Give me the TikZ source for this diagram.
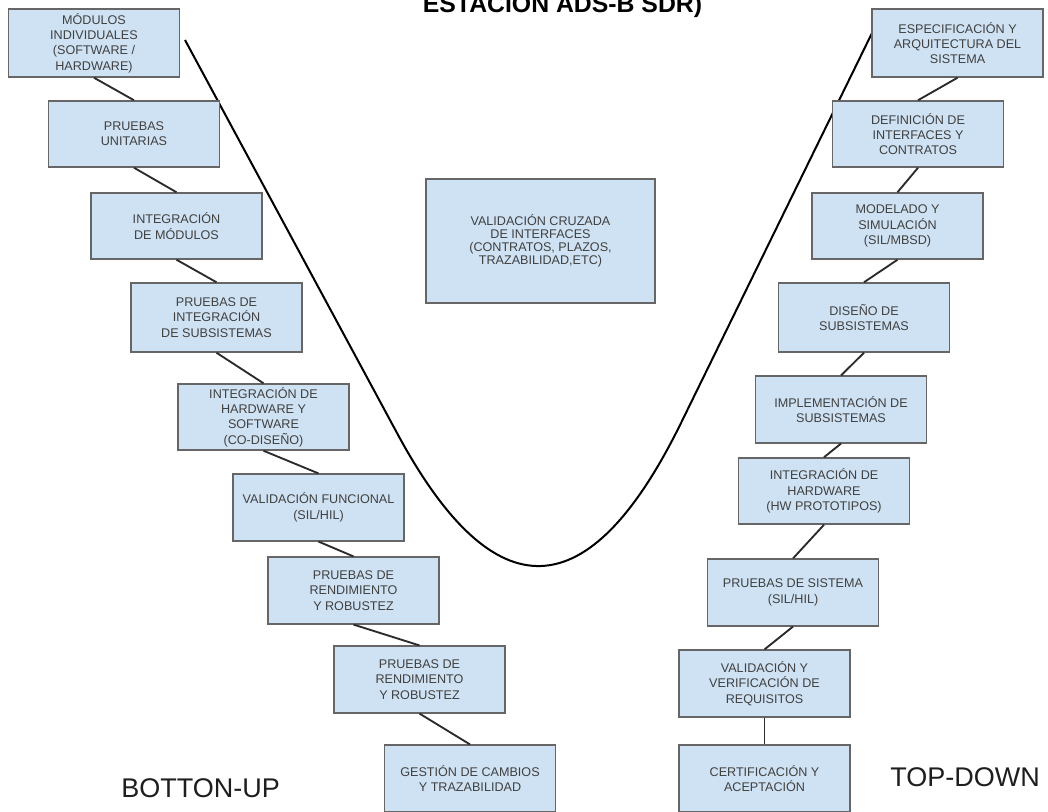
\documentclass[tikz,border=0pt]{standalone}
\usepackage{fontspec}
\setmainfont{Liberation Sans}
\definecolor{boxfill}{HTML}{CFE2F3}
\definecolor{boxline}{HTML}{666666}
\definecolor{boxtext}{HTML}{404040}
\definecolor{linkcol}{HTML}{2B2B2B}
\definecolor{labeltext}{HTML}{1E1E1E}
\begin{document}
\begin{tikzpicture}[x=0.75pt,y=-0.75pt,
  stage/.style={draw=boxline, fill=boxfill, line width=1.1pt,
    minimum width=128pt, minimum height=50pt, inner sep=0pt,
    align=center, text=boxtext, font=\fontsize{9.45}{11.5}\selectfont},
  link/.style={draw=linkcol, line width=1.4pt},
  vcurve/.style={draw=black, line width=1.5pt},
  sidelabel/.style={text=labeltext, inner sep=0pt, font=\fontsize{20.25}{24}\selectfont}]
\useasboundingbox (0,0) rectangle (1048,812);
\clip (0,0) rectangle (1048,812);

% title (its first line lies above the page)
\node[anchor=base, inner sep=0pt, font=\bfseries\fontsize{18.6}{22}\selectfont] (title)
  at (562.5,13) {ESTACION ADS-B SDR)};

% V line behind the stages
\coordinate (vtl) at (185,40);
\coordinate (vtr) at (872,33);
\draw[vcurve] (vtl) -- (397,433) .. controls (494.3,613.7) and (589,610.3) .. (681,423) -- (vtr);

% bottom-up branch
\node[stage, minimum height=51pt] (l1) at (94,43) {MÓDULOS\\INDIVIDUALES\\(SOFTWARE /\\HARDWARE)};
\node[stage, minimum height=49.5pt] (l2) at (134,134) {PRUEBAS\\UNITARIAS};
\node[stage, minimum height=49.5pt] (l3) at (176.5,226) {INTEGRACIÓN\\DE MÓDULOS};
\node[stage, minimum height=51.75pt] (l4) at (216.5,317.5) {PRUEBAS DE\\INTEGRACIÓN\\DE SUBSISTEMAS};
\node[stage, minimum height=49.5pt] (l5) at (263.5,417) {INTEGRACIÓN DE\\HARDWARE Y\\SOFTWARE\\(CO-DISEÑO)};
\node[stage] (l6) at (318.5,507.5) {VALIDACIÓN FUNCIONAL\\(SIL/HIL)};
\node[stage] (l7) at (353.5,590.5) {PRUEBAS DE\\RENDIMIENTO\\Y ROBUSTEZ};
\node[stage] (l8) at (419.5,679.5) {PRUEBAS DE\\RENDIMIENTO\\Y ROBUSTEZ};
\node[stage] (l9) at (470,778.5) {GESTIÓN DE CAMBIOS\\Y TRAZABILIDAD};

% top-down branch
\node[stage, minimum height=51pt] (r1) at (957.5,43) {ESPECIFICACIÓN Y\\ARQUITECTURA DEL\\SISTEMA};
\node[stage, minimum height=49.5pt] (r2) at (918,134) {DEFINICIÓN DE\\INTERFACES Y\\CONTRATOS};
\node[stage, minimum height=49.5pt] (r3) at (897.5,226) {MODELADO Y\\SIMULACIÓN\\(SIL/MBSD)};
\node[stage, minimum height=51.75pt] (r4) at (864,317.5) {DISEÑO DE\\SUBSISTEMAS};
\node[stage] (r5) at (841,409.5) {IMPLEMENTACIÓN DE\\SUBSISTEMAS};
\node[stage, minimum height=49.5pt] (r6) at (824,491) {INTEGRACIÓN DE\\HARDWARE\\(HW PROTOTIPOS)};
\node[stage] (r7) at (793,592.5) {PRUEBAS DE SISTEMA\\(SIL/HIL)};
\node[stage] (r8) at (764.5,683.5) {VALIDACIÓN Y\\VERIFICACIÓN DE\\REQUISITOS};
\node[stage] (r9) at (764.5,778.5) {CERTIFICACIÓN Y\\ACEPTACIÓN};

% cross-check box
\node[stage, minimum width=171.75pt, minimum height=93pt,
  font=\fontsize{9.45}{9.8}\selectfont] (cross) at (540.5,241)
  {VALIDACIÓN CRUZADA\\DE INTERFACES\\(CONTRATOS, PLAZOS,\\TRAZABILIDAD,ETC)};

% links between consecutive stages
\foreach \a/\b in {l1/l2,l2/l3,l3/l4,l4/l5,l5/l6,l6/l7,l7/l8,l8/l9,
                   r1/r2,r2/r3,r3/r4,r4/r5,r5/r6,r6/r7,r7/r8,r8/r9}
  \draw[link] (\a.south) -- (\b.north);

% branch labels
\node[sidelabel, anchor=base west] (bu) at (121,797) {BOTTON-UP};
\node[sidelabel, anchor=base west] (td) at (890,786) {TOP-DOWN};
\end{tikzpicture}
\end{document}
